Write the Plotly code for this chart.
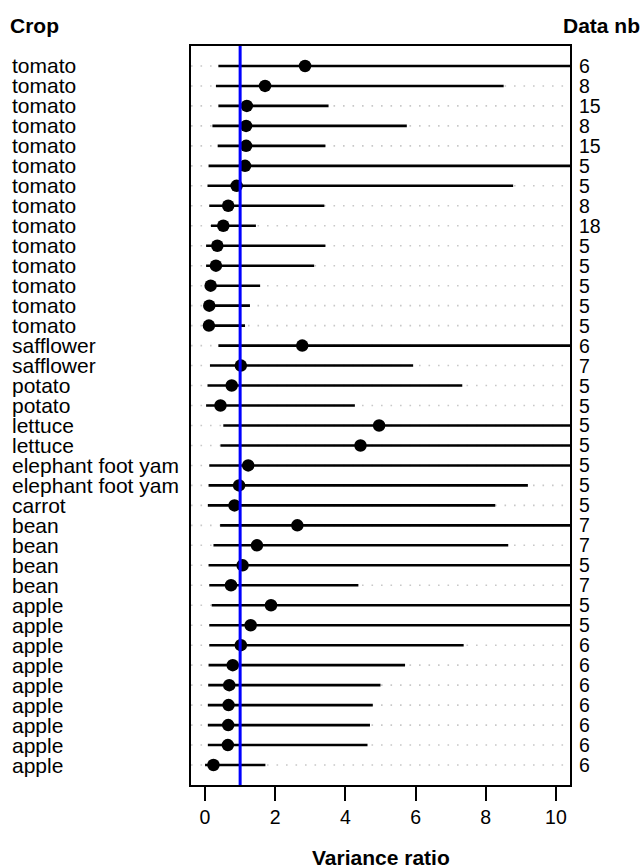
import plotly.graph_objects as go

crops = ["tomato"] * 14 + ["safflower"] * 2 + ["potato"] * 2 + ["lettuce"] * 2 + \
        ["elephant foot yam"] * 2 + ["carrot"] + ["bean"] * 4 + ["apple"] * 9
data_nb = [6, 8, 15, 8, 15, 5, 5, 8, 18, 5, 5, 5, 5, 5,
           6, 7, 5, 5, 5, 5, 5, 5, 5, 7, 7, 5, 7,
           5, 5, 6, 6, 6, 6, 6, 6, 6]
ratio = [2.85, 1.71, 1.19, 1.17, 1.17, 1.14, 0.90, 0.66, 0.52, 0.35, 0.31, 0.16, 0.12, 0.11,
         2.77, 1.02, 0.76, 0.44, 4.96, 4.43, 1.23, 0.97, 0.84, 2.63, 1.48, 1.07, 0.74,
         1.88, 1.30, 1.02, 0.79, 0.69, 0.67, 0.66, 0.65, 0.24]
lower = [0.38, 0.31, 0.38, 0.21, 0.36, 0.10, 0.07, 0.12, 0.17, 0.03, 0.03, 0.03, 0.02, 0.02,
         0.38, 0.14, 0.07, 0.03, 0.52, 0.44, 0.12, 0.10, 0.08, 0.43, 0.24, 0.10, 0.12,
         0.19, 0.12, 0.12, 0.10, 0.09, 0.08, 0.08, 0.08, 0.00]
upper = [14.0, 8.51, 3.52, 5.75, 3.43, 14.0, 8.78, 3.40, 1.45, 3.43, 3.11, 1.57, 1.28, 1.14,
         14.0, 5.93, 7.33, 4.27, 14.0, 14.0, 14.0, 9.20, 8.27, 14.0, 8.64, 14.0, 4.37,
         14.0, 14.0, 7.37, 5.70, 5.00, 4.78, 4.70, 4.63, 1.72]
ref_value = 1.0
x_ticks = [0, 2, 4, 6, 8, 10]
x_range = [-0.4, 10.4]

n = len(crops)
ypos = [n - i for i in range(n)]
y_range = [0, n + 1]

FONT = "Liberation Sans, Arial, Helvetica, sans-serif"
LAB = 21
NUM = 19.5

fig = go.Figure()

# dotted light-gray guide lines
gx, gy = [], []
for y in ypos:
    gx += [x_range[0], x_range[1], None]
    gy += [y, y, None]
fig.add_trace(go.Scatter(x=gx, y=gy, mode="lines",
                         line=dict(color="#c8c8c8", width=1.6, dash="1.6px,7.9px"),
                         hoverinfo="skip", showlegend=False))

# confidence segments
sx, sy = [], []
for lo, hi, y in zip(lower, upper, ypos):
    sx += [lo, hi, None]
    sy += [y, y, None]
fig.add_trace(go.Scatter(x=sx, y=sy, mode="lines",
                         line=dict(color="black", width=2.6),
                         hoverinfo="skip", showlegend=False))

# points
fig.add_trace(go.Scatter(x=ratio, y=ypos, mode="markers",
                         marker=dict(color="black", size=12.5, line=dict(width=0)),
                         showlegend=False))

# reference line
fig.add_shape(type="line", x0=ref_value, x1=ref_value, y0=0, y1=1,
              xref="x", yref="paper", line=dict(color="#0000ff", width=3), layer="above")

L, R, T, B = 191, 74, 46, 83
W, H = 644, 868
pw = W - L - R
ph = H - T - B

annotations = []
for c, y in zip(crops, ypos):
    annotations.append(dict(text=c, x=(10 - L) / pw, xref="paper", y=y, yref="y",
                            xanchor="left", yanchor="middle", showarrow=False,
                            font=dict(family=FONT, size=LAB, color="black")))
for d, y in zip(data_nb, ypos):
    annotations.append(dict(text=str(d), x=(577 - L) / pw, xref="paper", y=y, yref="y",
                            xanchor="left", yanchor="middle", showarrow=False,
                            font=dict(family=FONT, size=NUM, color="black")))
annotations.append(dict(text="<b>Crop</b>", x=(8 - L) / pw, xref="paper",
                        y=1 + (T - 25) / ph, yref="paper", xanchor="left", yanchor="middle",
                        showarrow=False, font=dict(family=FONT, size=LAB, color="black")))
annotations.append(dict(text="<b>Data nb</b>", x=(642 - L) / pw, xref="paper",
                        y=1 + (T - 25) / ph, yref="paper", xanchor="right", yanchor="middle",
                        showarrow=False, font=dict(family=FONT, size=LAB, color="black")))
annotations.append(dict(text="<b>Variance ratio</b>", x=0.5, xref="paper",
                        y=-(857 - (T + ph)) / ph, yref="paper", xanchor="center", yanchor="middle",
                        showarrow=False, font=dict(family=FONT, size=LAB, color="black")))

fig.update_layout(
    width=W, height=H,
    margin=dict(l=L, r=R, t=T, b=B),
    paper_bgcolor="white", plot_bgcolor="white",
    font=dict(family=FONT, size=NUM, color="black"),
    annotations=annotations,
    xaxis=dict(range=x_range, tickvals=x_ticks, ticktext=[str(t) for t in x_ticks],
               ticks="outside", ticklen=14, tickwidth=2, tickcolor="black",
               showline=True, mirror=True, linecolor="black", linewidth=2,
               showgrid=False, zeroline=False,
               tickfont=dict(family=FONT, size=NUM, color="black")),
    yaxis=dict(range=y_range, showticklabels=False, ticks="",
               showline=True, mirror=True, linecolor="black", linewidth=2,
               showgrid=False, zeroline=False),
)

fig.write_html("out.html", config={"displayModeBar": False},
               post_script="document.body.style.margin='0';document.body.style.overflow='hidden';")
